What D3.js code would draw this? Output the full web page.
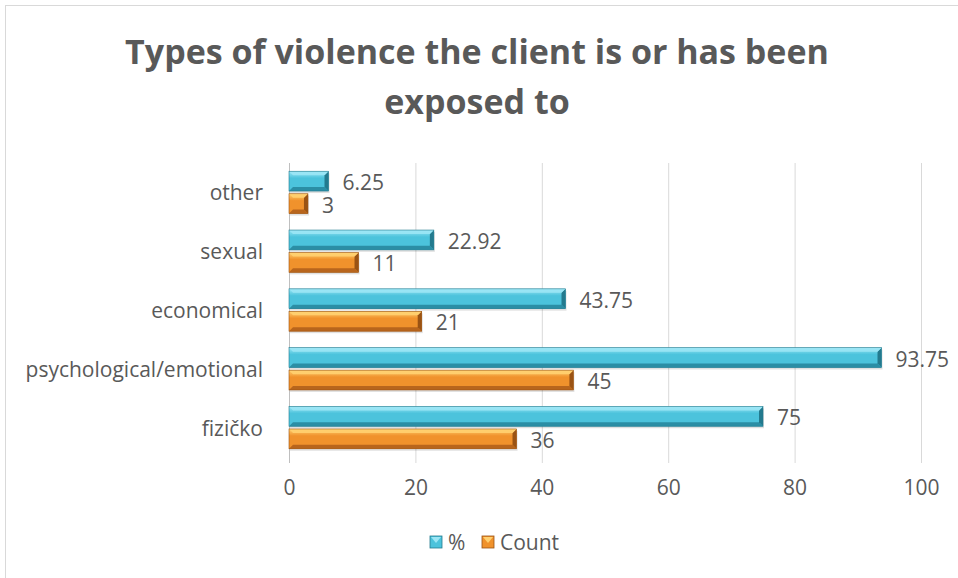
<!DOCTYPE html>
<html>
<head>
<meta charset="utf-8">
<script src="https://cdn.jsdelivr.net/npm/d3@7"></script>
<style>
  body { margin: 0; background: #fff; }
  text { font-family: "Open Sans", sans-serif; fill: #595959; }
</style>
</head>
<body>
<div id="chart"></div>
<script>
// data
const categories = ["other", "sexual", "economical", "psychological/emotional", "fizičko"];
const pctValues = [6.25, 22.92, 43.75, 93.75, 75];
const countValues = [3, 11, 21, 45, 36];
const seriesNames = ["%", "Count"];
const xTicks = [0, 20, 40, 60, 80, 100];

const W = 958, H = 578;
const margin = { top: 163, right: 37, bottom: 121, left: 289 };
const width = W - margin.left - margin.right,
  height = H - margin.top - margin.bottom;
const fs = "21px";

const svg = d3.select("#chart").append("svg")
  .attr("width", W).attr("height", H);

// chart frame
svg.append("rect")
  .attr("x", 5.5).attr("y", 5.5)
  .attr("width", W).attr("height", H - 3)
  .attr("fill", "#fff").attr("stroke", "#d9d9d9");

// title
const title = svg.append("text")
  .attr("x", 479).attr("text-anchor", "middle")
  .style("font-size", "34px").style("font-weight", "bold");
title.append("tspan").attr("x", 477).attr("y", 64).text("Types of violence the client is or has been");
title.append("tspan").attr("x", 477).attr("y", 114).text("exposed to");

const defs = svg.append("defs");
const palettes = [
  { id: "cy", light: "#9be6f5", mid: "#4cc3dc", dark: "#2b8ea5", end: "#237a8e" },
  { id: "or", light: "#ffd070", mid: "#f0922c", dark: "#b8651c", end: "#9a5314" }
];
palettes.forEach(p => {
  const g = defs.append("linearGradient").attr("id", "g" + p.id)
    .attr("x1", 0).attr("y1", 0).attr("x2", 0).attr("y2", 1);
  g.append("stop").attr("offset", "0%").attr("stop-color", p.light);
  g.append("stop").attr("offset", "35%").attr("stop-color", p.mid);
  g.append("stop").attr("offset", "100%").attr("stop-color", p.mid);
});

const g = svg.append("g").attr("transform", `translate(${margin.left},${margin.top})`);

const x = d3.scaleLinear().domain([0, 100]).range([0, width]);
const y = d3.scaleBand().domain(categories).range([0, height]).paddingInner(0.28).paddingOuter(0.14);
const sub = d3.scaleBand().domain(seriesNames).range([0, y.bandwidth()]).paddingInner(0.12);

// gridlines
g.append("g").selectAll("line").data(xTicks).join("line")
  .attr("x1", d => x(d) + 0.5).attr("x2", d => x(d) + 0.5)
  .attr("y1", 0).attr("y2", height + 6)
  .attr("stroke", d => d === 0 ? "#bfbfbf" : "#d9d9d9");

// x axis labels
const xAxis = g.append("g").attr("transform", `translate(0,${height})`)
  .call(d3.axisBottom(x).tickValues(xTicks).tickSize(0).tickPadding(23));
xAxis.select(".domain").remove();
xAxis.selectAll("text").style("font-size", fs).attr("fill", "#595959");

// category labels
g.append("g").selectAll("text").data(categories).join("text")
  .attr("x", -26).attr("y", d => y(d) + y.bandwidth() / 2)
  .attr("text-anchor", "end").attr("dominant-baseline", "central")
  .style("font-size", fs).text(d => d);

// bars with bevel
const rows = categories.map((c, i) => [
  { cat: c, s: "%", v: pctValues[i], p: palettes[0] },
  { cat: c, s: "Count", v: countValues[i], p: palettes[1] }
]).flat();

const bev = 4;
const bar = g.append("g").selectAll("g").data(rows).join("g")
  .attr("transform", d => `translate(0,${y(d.cat) + sub(d.s)})`);
const bh = sub.bandwidth();

// shadow
bar.append("rect")
  .attr("x", 1).attr("y", 2)
  .attr("width", d => x(d.v)).attr("height", bh)
  .attr("fill", "#000").attr("opacity", 0.12);
bar.append("rect")
  .attr("width", d => x(d.v)).attr("height", bh)
  .attr("fill", d => `url(#g${d.p.id})`);
// bottom bevel
bar.append("path")
  .attr("d", d => { const w = x(d.v); return `M0,${bh}L${bev},${bh - bev}L${w - bev},${bh - bev}L${w},${bh}Z`; })
  .attr("fill", d => d.p.dark);
// right bevel
bar.append("path")
  .attr("d", d => { const w = x(d.v); return `M${w},0L${w - bev},${bev}L${w - bev},${bh - bev}L${w},${bh}Z`; })
  .attr("fill", d => d.p.end);
// top bevel
bar.append("path")
  .attr("d", d => { const w = x(d.v); return `M0,0L${w},0L${w - bev},${bev}L${bev},${bev}Z`; })
  .attr("fill", d => d.p.light).attr("opacity", 0.9);
bar.append("rect")
  .attr("width", d => x(d.v)).attr("height", bh)
  .attr("fill", "none").attr("stroke", d => d.p.end).attr("stroke-width", 0.6);

// value labels
bar.append("text")
  .attr("x", d => x(d.v) + 14).attr("y", bh / 2 + 1)
  .attr("dominant-baseline", "central")
  .style("font-size", fs).text(d => d.v);

// legend
const legend = svg.append("g").attr("transform", "translate(430,536)");
const li = legend.selectAll("g").data(palettes).join("g")
  .attr("transform", (d, i) => `translate(${i * 52},0)`);
li.append("rect").attr("width", 12).attr("height", 12).attr("fill", d => d.mid)
  .attr("stroke", d => d.end).attr("stroke-width", 0.8);
li.append("path").attr("d", "M1,1L11,1L6,7Z").attr("fill", d => d.light);
li.append("text").attr("x", 18).attr("y", 6).attr("dominant-baseline", "central")
  .style("font-size", fs).text((d, i) => seriesNames[i]);
</script>
</body>
</html>
